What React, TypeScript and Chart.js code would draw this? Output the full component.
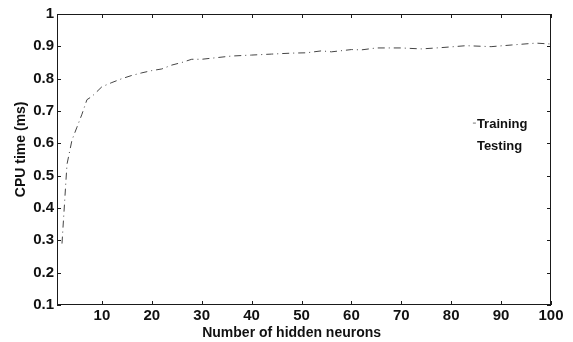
import React, { useEffect, useRef } from "react";
import { Chart, registerables } from "chart.js";
Chart.register(...registerables);

const neurons = [2, 3, 4, 5, 6, 7, 8, 9, 10, 12, 14, 16, 18, 20, 22, 24, 26, 28, 30, 33, 36, 40, 44, 48, 51, 54, 56, 60, 62, 65, 70, 74, 78, 83, 88, 92, 97, 100];
const trainingTime = [0.29, 0.535, 0.61, 0.65, 0.69, 0.735, 0.745, 0.76, 0.775, 0.788, 0.8, 0.81, 0.818, 0.825, 0.83, 0.842, 0.85, 0.86, 0.86, 0.865, 0.87, 0.873, 0.876, 0.879, 0.88, 0.886, 0.883, 0.89, 0.889, 0.895, 0.895, 0.892, 0.896, 0.902, 0.899, 0.904, 0.91, 0.907];
const testingNeurons = [1, 100];
const testingTime = [0.1, 0.1];
const xTickValues = [10, 20, 30, 40, 50, 60, 70, 80, 90, 100];
const yTickValues = [0.1, 0.2, 0.3, 0.4, 0.5, 0.6, 0.7, 0.8, 0.9, 1];
const seriesNames = ["Training", "Testing"];
const xTitle = "Number of hidden neurons";
const yTitle = "CPU time (ms)";

const FONT = "'Liberation Sans', Arial, sans-serif";

const framePlugin = {
  id: "frame",
  afterDraw(chart: any) {
    const { ctx, chartArea: a, scales } = chart;
    ctx.save();
    ctx.strokeStyle = "#1a1a1a";
    ctx.lineWidth = 1;
    ctx.setLineDash([]);
    ctx.strokeRect(a.left + 0.5, a.top + 0.5, a.width - 1, a.height - 1);
    const t = 4;
    const seg = (x1: number, y1: number, x2: number, y2: number) => {
      ctx.beginPath();
      ctx.moveTo(x1, y1);
      ctx.lineTo(x2, y2);
      ctx.stroke();
    };
    scales.x.ticks.forEach((tk: any) => {
      const px = Math.round(scales.x.getPixelForValue(tk.value)) + 0.5;
      seg(px, a.bottom, px, a.bottom - t);
      seg(px, a.top, px, a.top + t);
    });
    scales.y.ticks.forEach((tk: any) => {
      const py = Math.round(scales.y.getPixelForValue(tk.value)) + 0.5;
      seg(a.left, py, a.left + t, py);
      seg(a.right, py, a.right - t, py);
    });
    // x axis title
    ctx.fillStyle = "#111";
    ctx.font = `bold 14px ${FONT}`;
    ctx.textAlign = "center";
    ctx.textBaseline = "middle";
    ctx.fillText(xTitle, a.left + a.width * 0.475, a.bottom + 28);
    // y axis title
    ctx.save();
    ctx.translate(21, a.top + a.height * 0.465);
    ctx.rotate(-Math.PI / 2);
    ctx.fillText(yTitle, 0, 0);
    ctx.restore();
    // legend
    ctx.font = `bold 13px ${FONT}`;
    ctx.textAlign = "left";
    const lx = a.left + a.width * 0.85;
    const ly = a.top + a.height * 0.38;
    chart.data.datasets.forEach((ds: any, i: number) => {
      const y = ly + i * 22;
      ctx.fillStyle = "#111";
      ctx.fillText(ds.label, lx, y);
      if (i === 0) {
        ctx.strokeStyle = "#777";
        seg(lx - 4, y - 1.5, lx - 1, y - 1.5);
      }
    });
    ctx.restore();
  },
};

export default function App() {
  const ref = useRef<HTMLCanvasElement>(null);
  useEffect(() => {
    if (!ref.current) return;
    const chart = new Chart(ref.current, {
      type: "line",
      data: {
        datasets: [
          {
            label: seriesNames[0],
            data: neurons.map((n, i) => ({ x: n, y: trainingTime[i] })),
            borderColor: "#444",
            borderWidth: 1,
            borderDash: [7, 4, 1, 4],
            pointRadius: 0,
            fill: false,
            tension: 0,
          },
          {
            label: seriesNames[1],
            data: testingNeurons.map((n, i) => ({ x: n, y: testingTime[i] })),
            borderColor: "#2a2a2a",
            borderWidth: 1,
            borderDash: [6, 3],
            pointRadius: 0,
            fill: false,
            tension: 0,
          },
        ],
      },
      plugins: [framePlugin],
      options: {
        responsive: false,
        animation: false,
        devicePixelRatio: 1,
        layout: { padding: { top: 14, right: 22, left: 0, bottom: 0 } },
        plugins: { legend: { display: false }, tooltip: { enabled: false } },
        scales: {
          x: {
            type: "linear",
            min: 1,
            max: 100,
            afterFit: (s: any) => { s.height = 37; },
            afterBuildTicks: (s: any) => { s.ticks = xTickValues.map((v) => ({ value: v })); },
            grid: { display: false, drawTicks: false },
            border: { display: false },
            ticks: {
              color: "#111",
              padding: 2,
              maxRotation: 0,
              font: { family: FONT, size: 15, weight: "bold" },
              callback: (v: any) => String(v),
            },
          },
          y: {
            type: "linear",
            min: 0.1,
            max: 1,
            afterFit: (s: any) => { s.width = 57; },
            afterBuildTicks: (s: any) => { s.ticks = yTickValues.map((v) => ({ value: v })); },
            grid: { display: false, drawTicks: false },
            border: { display: false },
            ticks: {
              color: "#111",
              padding: 3,
              font: { family: FONT, size: 15, weight: "bold" },
              callback: (v: any) => String(Math.round(v * 10) / 10),
            },
          },
        },
      },
    });
    return () => chart.destroy();
  }, []);
  return (
    <div style={{ position: "absolute", left: 0, top: 0, width: 573, height: 342, background: "#fff" }}>
      <canvas ref={ref} width={573} height={342} />
    </div>
  );
}
